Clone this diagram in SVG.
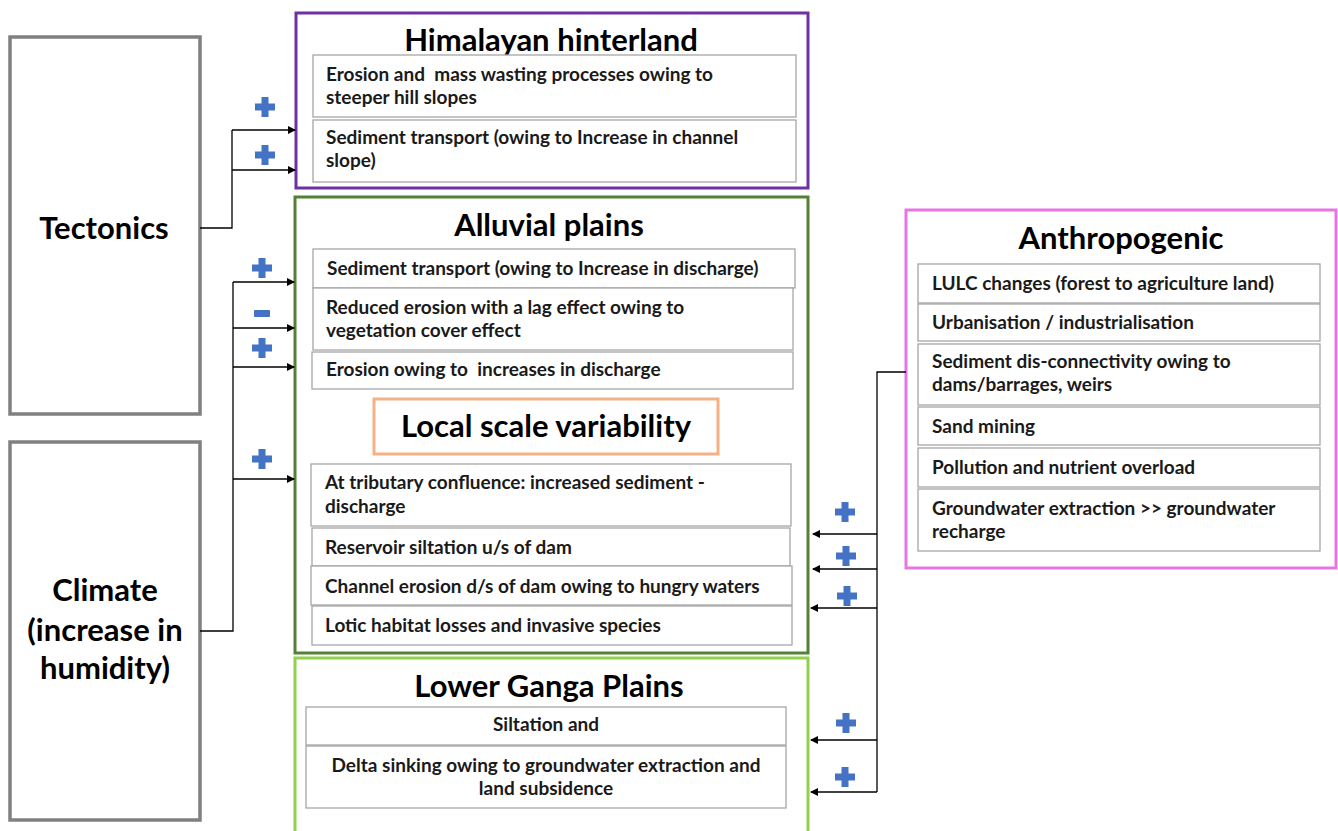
<svg xmlns="http://www.w3.org/2000/svg" width="1338" height="831" viewBox="0 0 1338 831">
<style>
.side{fill:#fff;stroke:#808080;stroke-width:3.5}
.grp{fill:#fff;stroke-width:3}
.item{fill:#fff;stroke:#a6a6a6;stroke-width:1.3}
.t{font-family:Lato,"Open Sans",sans-serif;font-weight:bold;font-size:19px;fill:#1a1a1a}
.h{font-family:Lato,"Open Sans",sans-serif;font-weight:bold;font-size:31px;fill:#000;text-anchor:middle}
.c{text-anchor:middle}
.ln{fill:none;stroke:#000;stroke-width:1.3}
.sign{fill:#4472c4}
</style>
<defs>
<marker id="ah" markerWidth="8" markerHeight="8" refX="7" refY="4" orient="auto" markerUnits="userSpaceOnUse">
<path d="M0,0 L8,4 L0,8 z" fill="#000"/>
</marker>
<path id="plus" d="M-3.5,-10 h7 v6.5 h6.5 v7 h-6.5 v6.5 h-7 v-6.5 h-6.5 v-7 h6.5 z"/>
</defs>

<g id="tectonics">
<rect class="side" x="10" y="37" width="190" height="377"/>
<text class="h" x="104" y="239">Tectonics</text>
</g>

<g id="climate">
<rect class="side" x="10" y="442" width="190" height="378"/>
<text class="h" x="105" y="601">Climate</text>
<text class="h" x="105" y="641">(increase in</text>
<text class="h" x="105" y="679">humidity)</text>
</g>

<g id="himalayan">
<rect class="grp" x="296" y="13" width="512" height="175" stroke="#7030a0"/>
<text class="h" x="551" y="51">Himalayan hinterland</text>
<rect class="item" x="313" y="55" width="483" height="62"/>
<text class="t" x="326" y="81">Erosion and &#160;mass wasting processes owing to</text>
<text class="t" x="326" y="104">steeper hill slopes</text>
<rect class="item" x="313" y="120" width="483" height="62"/>
<text class="t" x="326" y="144">Sediment transport (owing to Increase in channel</text>
<text class="t" x="326" y="167">slope)</text>
</g>

<g id="alluvial">
<rect class="grp" x="295" y="197" width="513" height="456" stroke="#538135"/>
<text class="h" x="549" y="236">Alluvial plains</text>
<rect class="item" x="313" y="249" width="482" height="39"/>
<text class="t" x="327" y="275">Sediment transport (owing to Increase in discharge)</text>
<rect class="item" x="313" y="288" width="480" height="62"/>
<text class="t" x="326" y="314">Reduced erosion with a lag effect owing to</text>
<text class="t" x="326" y="337">vegetation cover effect</text>
<rect class="item" x="312" y="352" width="481" height="37"/>
<text class="t" x="326" y="376">Erosion owing to &#160;increases in discharge</text>
<rect class="item" x="311" y="464" width="480" height="62"/>
<text class="t" x="325" y="489">At tributary confluence: increased sediment -</text>
<text class="t" x="325" y="513">discharge</text>
<rect class="item" x="312" y="528" width="478" height="38"/>
<text class="t" x="325" y="554">Reservoir siltation u/s of dam</text>
<rect class="item" x="311" y="566" width="481" height="39"/>
<text class="t" x="325" y="593">Channel erosion d/s of dam owing to hungry waters</text>
<rect class="item" x="312" y="606" width="480" height="39"/>
<text class="t" x="325" y="632">Lotic habitat losses and invasive species</text>
</g>

<g id="local">
<rect class="grp" x="374" y="399" width="344" height="55" stroke="#f4b183"/>
<text class="h" x="546" y="437">Local scale variability</text>
</g>

<g id="lower">
<rect class="grp" x="295" y="658" width="513" height="180" stroke="#92d050"/>
<text class="h" x="549" y="697">Lower Ganga Plains</text>
<rect class="item" x="306" y="707" width="480" height="38"/>
<text class="t c" x="546" y="731">Siltation and</text>
<rect class="item" x="306" y="746" width="480" height="62"/>
<text class="t c" x="546" y="772">Delta sinking owing to groundwater extraction and</text>
<text class="t c" x="546" y="795">land subsidence</text>
</g>

<g id="anthropogenic">
<rect class="grp" x="906" y="210" width="430" height="358" stroke="#e676e0"/>
<text class="h" x="1121" y="249">Anthropogenic</text>
<rect class="item" x="918" y="264" width="402" height="39"/>
<text class="t" x="932" y="290">LULC changes (forest to agriculture land)</text>
<rect class="item" x="918" y="304" width="402" height="37"/>
<text class="t" x="932" y="329">Urbanisation / industrialisation</text>
<rect class="item" x="918" y="344" width="402" height="61"/>
<text class="t" x="932" y="368">Sediment dis-connectivity owing to</text>
<text class="t" x="932" y="391">dams/barrages, weirs</text>
<rect class="item" x="918" y="407" width="402" height="38"/>
<text class="t" x="932" y="433">Sand mining</text>
<rect class="item" x="918" y="448" width="402" height="39"/>
<text class="t" x="932" y="474">Pollution and nutrient overload</text>
<rect class="item" x="918" y="489" width="402" height="62"/>
<text class="t" x="932" y="515">Groundwater extraction &gt;&gt; groundwater</text>
<text class="t" x="932" y="538">recharge</text>
</g>

<g id="connectors">
<path class="ln" d="M200,228 H232 V130"/>
<path class="ln" d="M232,130 H295" marker-end="url(#ah)"/>
<path class="ln" d="M232,170 H295" marker-end="url(#ah)"/>
<path class="ln" d="M200,631 H233 V282"/>
<path class="ln" d="M233,282 H294" marker-end="url(#ah)"/>
<path class="ln" d="M233,328 H294" marker-end="url(#ah)"/>
<path class="ln" d="M233,367 H294" marker-end="url(#ah)"/>
<path class="ln" d="M233,479 H294" marker-end="url(#ah)"/>
<path class="ln" d="M906,372 H877 V792"/>
<path class="ln" d="M877,534 H813" marker-end="url(#ah)"/>
<path class="ln" d="M877,569 H813" marker-end="url(#ah)"/>
<path class="ln" d="M877,608 H811" marker-end="url(#ah)"/>
<path class="ln" d="M877,740 H811" marker-end="url(#ah)"/>
<path class="ln" d="M877,792 H811" marker-end="url(#ah)"/>
<g class="sign">
<use href="#plus" x="265" y="107"/>
<use href="#plus" x="265" y="155"/>
<use href="#plus" x="262" y="268"/>
<rect x="254" y="310" width="16" height="7" rx="1"/>
<use href="#plus" x="262" y="348"/>
<use href="#plus" x="262" y="459"/>
<use href="#plus" x="845" y="512"/>
<use href="#plus" x="846" y="556"/>
<use href="#plus" x="847" y="596"/>
<use href="#plus" x="846" y="723"/>
<use href="#plus" x="845" y="777"/>
</g>
</g>
</svg>
